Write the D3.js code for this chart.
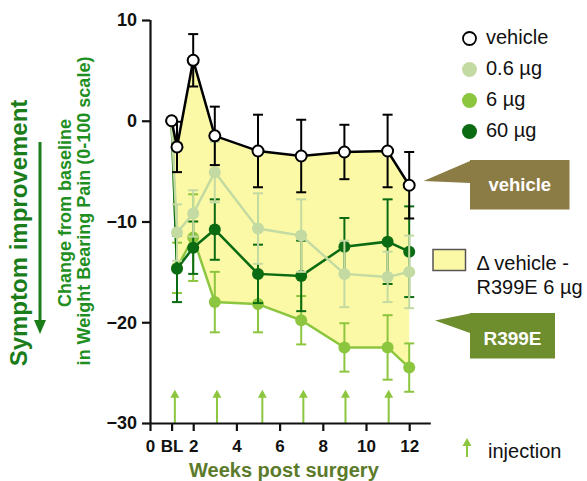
<!DOCTYPE html>
<html>
<head>
<meta charset="utf-8">
<script src="https://cdn.jsdelivr.net/npm/d3@7/dist/d3.min.js"></script>
<style>
  html, body { margin: 0; padding: 0; background: #ffffff; }
  svg { display: block; }
  text { font-family: Arial, "Liberation Sans", sans-serif; }
</style>
</head>
<body>
<svg id="chart" width="587" height="481"></svg>
<script>
// Time points (weeks post surgery); baseline (BL) sits at position 1
const weeks = [1, 1.25, 2, 3, 5, 7, 9, 11, 12];

// Change from baseline, mean and SEM per group
const vehicleMean = [0, -2.6, 6.0, -1.5, -3.0, -3.5, -3.1, -3.0, -6.4];
const vehicleSem  = [0, 2.5, 2.6, 2.9, 3.6, 3.6, 2.7, 3.6, 3.3];
const dose06Mean  = [0, -11.1, -9.2, -5.1, -10.7, -11.4, -15.2, -15.5, -15.0];
const dose06Sem   = [0, 2.8, 2.3, 3.0, 3.5, 3.6, 3.3, 2.5, 3.6];
const dose6Mean   = [0, -14.6, -11.6, -18.0, -18.2, -19.8, -22.5, -22.5, -24.5];
const dose6Sem    = [0, 2.5, 4.3, 3.0, 2.8, 2.4, 2.4, 3.2, 2.4];
const dose60Mean  = [0, -14.7, -12.6, -10.8, -15.2, -15.4, -12.5, -12.0, -13.0];
const dose60Sem   = [0, 3.3, 2.6, 3.0, 2.9, 3.5, 2.85, 4.2, 4.5];

// Injection times
const injectionWeeks = [1.15, 3.1, 5.2, 7.1, 9.05, 11.05];

// Axis ticks
const xTicks = [0, 1, 2, 4, 6, 8, 10, 12];
const xTickLabels = ["0", "BL", "2", "4", "6", "8", "10", "12"];
const yTicks = [10, 0, -10, -20, -30];

const legendLabels = ["vehicle", "0.6 µg", "6 µg", "60 µg"];

const colors = {
  vehicle: "#000000",
  d06: "#c3daa2",
  d6: "#8cc63f",
  d60: "#0b6b12",
  fill: "#fcf9a6",
  injection: "#8cc63f"
};

const svg = d3.select("#chart");

const x = d3.scaleLinear().domain([0, 13]).range([150, 430.8]);
const y = d3.scaleLinear().domain([-30, 10]).range([423, 20]);

// Shaded difference between vehicle and 6 µg
const diffArea = d3.area()
  .x((d, i) => x(weeks[i]))
  .y0((d, i) => y(dose6Mean[i]))
  .y1((d, i) => y(vehicleMean[i]));
svg.append("path")
  .datum(weeks)
  .attr("d", diffArea)
  .attr("fill", colors.fill);

// Injection arrows
function upArrow(g, cx, tipY, baseY, headH, headW, color) {
  g.append("line")
    .attr("x1", cx).attr("x2", cx)
    .attr("y1", tipY + headH - 1).attr("y2", baseY)
    .attr("stroke", color).attr("stroke-width", 2);
  g.append("path")
    .attr("d", `M${cx},${tipY} L${cx - headW / 2},${tipY + headH} L${cx + headW / 2},${tipY + headH} Z`)
    .attr("fill", color);
}
const arrows = svg.append("g");
injectionWeeks.forEach(w => upArrow(arrows, x(w), y(-26.7), y(-30), 8, 9, colors.injection));

// Axes
const yAxis = svg.append("g")
  .attr("transform", `translate(${x(0)},0)`)
  .call(d3.axisLeft(y).tickValues(yTicks).tickSize(8).tickPadding(5).tickFormat(d3.format("d")));
const xAxis = svg.append("g")
  .attr("transform", `translate(0,${y(-30)})`)
  .call(d3.axisBottom(x).tickValues(xTicks).tickSize(8).tickPadding(5)
    .tickFormat((d, i) => xTickLabels[i]));

[yAxis, xAxis].forEach(a => {
  a.select(".domain").attr("stroke", "#111").attr("stroke-width", 2.2);
  a.selectAll(".tick line").attr("stroke", "#111").attr("stroke-width", 2.2);
  a.selectAll(".tick text")
    .attr("fill", "#111")
    .style("font-family", "Arial, 'Liberation Sans', sans-serif")
    .style("font-weight", "bold");
});
yAxis.select(".domain").attr("d", `M0.5,${y(10)}V${y(-30)}`);
xAxis.select(".domain").attr("d", `M${x(0)},0.5H${x(13)}`);
yAxis.selectAll(".tick text").style("font-size", "18px");
xAxis.selectAll(".tick text").style("font-size", "17px").attr("dy", "0.95em");

// Series drawing
function drawSeries(means, sems, color, opts) {
  const g = svg.append("g");
  const pts = weeks.map((w, i) => ({ w, m: means[i], s: sems[i] }));
  // error bars
  pts.filter(p => p.s > 0).forEach(p => {
    const cx = x(p.w);
    const top = y(p.m + p.s), bot = y(p.m - p.s);
    g.append("line").attr("x1", cx).attr("x2", cx).attr("y1", top).attr("y2", bot)
      .attr("stroke", color).attr("stroke-width", 2);
    [top, bot].forEach(yy => g.append("line")
      .attr("x1", cx - 5).attr("x2", cx + 5).attr("y1", yy).attr("y2", yy)
      .attr("stroke", color).attr("stroke-width", 2));
  });
  // line
  g.append("path")
    .datum(pts)
    .attr("d", d3.line().x(p => x(p.w)).y(p => y(p.m)))
    .attr("fill", "none").attr("stroke", color).attr("stroke-width", 2.5);
  // points
  g.selectAll("circle").data(pts).join("circle")
    .attr("cx", p => x(p.w)).attr("cy", p => y(p.m))
    .attr("r", opts.open ? 5.5 : 6)
    .attr("fill", opts.open ? "#ffffff" : color)
    .attr("stroke", color).attr("stroke-width", opts.open ? 2 : 0);
}

drawSeries(dose6Mean, dose6Sem, colors.d6, {});
drawSeries(dose60Mean, dose60Sem, colors.d60, {});
drawSeries(dose06Mean, dose06Sem, colors.d06, {});
drawSeries(vehicleMean, vehicleSem, colors.vehicle, { open: true });

// Axis titles
svg.append("text")
  .attr("x", x(6.2)).attr("y", 477)
  .attr("text-anchor", "middle")
  .attr("fill", "#5b7a2a")
  .style("font-size", "20px").style("font-weight", "bold")
  .text("Weeks post surgery");

const yTitle = svg.append("g").attr("fill", "#1f8f1f")
  .style("font-size", "18px").style("font-weight", "bold");
yTitle.append("text")
  .attr("transform", "translate(65,213) rotate(-90)")
  .attr("text-anchor", "middle").attr("dy", "0.35em")
  .text("Change from baseline");
yTitle.append("text")
  .attr("transform", "translate(83.5,211) rotate(-90)")
  .attr("text-anchor", "middle").attr("dy", "0.35em")
  .text("in Weight Bearing Pain (0-100 scale)");

svg.append("text")
  .attr("transform", "translate(19,233) rotate(-90)")
  .attr("text-anchor", "middle").attr("dy", "0.35em")
  .attr("fill", "#1a7d1a")
  .style("font-size", "24px").style("font-weight", "bold")
  .text("Symptom improvement");

// Downward arrow beside "Symptom improvement"
svg.append("line")
  .attr("x1", 40).attr("x2", 40).attr("y1", 142).attr("y2", 322)
  .attr("stroke", "#1a7d1a").attr("stroke-width", 3);
svg.append("path")
  .attr("d", "M34,320 L46,320 L40,334 Z")
  .attr("fill", "#1a7d1a");

// Legend
const legendColors = [colors.vehicle, colors.d06, colors.d6, colors.d60];
const legend = svg.append("g");
legendLabels.forEach((lab, i) => {
  const by = 44 + i * 31;
  legend.append("circle")
    .attr("cx", 469.5).attr("cy", by - 5.5).attr("r", i === 0 ? 6.5 : 7.5)
    .attr("fill", i === 0 ? "#ffffff" : legendColors[i])
    .attr("stroke", i === 0 ? "#000" : "none").attr("stroke-width", 1.8);
  legend.append("text")
    .attr("x", 486).attr("y", by)
    .attr("fill", "#111").style("font-size", "20px")
    .text(lab);
});

// Shaded-area legend
svg.append("rect")
  .attr("x", 433).attr("y", 249.5).attr("width", 32.5).attr("height", 21)
  .attr("fill", colors.fill).attr("stroke", "#555").attr("stroke-width", 1.5);
svg.append("text").attr("x", 476.5).attr("y", 270)
  .attr("fill", "#111").style("font-size", "20px").text("Δ vehicle -");
svg.append("text").attr("x", 476.5).attr("y", 294)
  .attr("fill", "#111").style("font-size", "20px").text("R399E 6 µg");

// Callout labels
function callout(tip, box, baseTop, baseBot, color, label, fontSize, baseline) {
  svg.append("path")
    .attr("d", `M${tip[0]},${tip[1]} L${box.x},${baseTop} L${box.x},${baseBot} Z`)
    .attr("fill", color);
  svg.append("rect")
    .attr("x", box.x).attr("y", box.y).attr("width", box.w).attr("height", box.h)
    .attr("fill", color);
  svg.append("text")
    .attr("x", box.x + box.w / 2).attr("y", baseline)
    .attr("text-anchor", "middle").attr("fill", "#ffffff")
    .style("font-size", fontSize).style("font-weight", "bold")
    .text(label);
}
callout([423.5, 181], { x: 470, y: 160, w: 99.5, h: 49.5 }, 161, 183, "#8b7c45", "vehicle", "18.5px", 191);
callout([435, 320.5], { x: 470, y: 313, w: 85, h: 45.5 }, 313.5, 333, "#6e8d2d", "R399E", "19px", 345);

// Injection legend
upArrow(svg, 467, 438, 457, 8, 9, colors.injection);
svg.append("text").attr("x", 488).attr("y", 458)
  .attr("fill", "#111").style("font-size", "20px").text("injection");
</script>
</body>
</html>
